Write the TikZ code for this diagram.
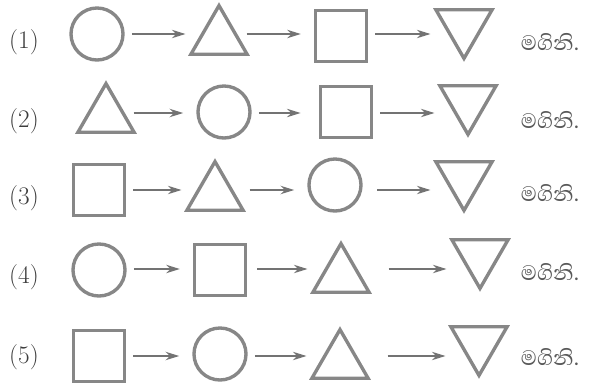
\documentclass[tikz,border=0pt]{standalone}
\usepackage{fontspec}
\usetikzlibrary{shapes.geometric, arrows.meta, positioning}
\newfontfamily\sinhalafont[Script=Sinhala]{Abhaya Libre}
\definecolor{shapegray}{RGB}{135,135,135}
\definecolor{arrowgray}{RGB}{115,115,115}
\definecolor{textgray}{RGB}{60,60,60}

\begin{document}
\begin{tikzpicture}[x=0.025cm, y=-0.025cm,
  fig/.style={draw=shapegray, line width=2.4pt, inner sep=0pt, outer sep=0pt},
  circ/.style={fig, circle, minimum size=1.3cm},
  sq/.style={fig, rectangle, minimum size=1.27cm},
  tri/.style={fig, regular polygon, regular polygon sides=3, minimum size=1.62cm},
  invtri/.style={tri, shape border rotate=180},
  conn/.style={-{Stealth[length=0.34cm, width=0.21cm]}, line width=1.1pt,
               draw=arrowgray, shorten <=0.22cm, shorten >=0.37cm},
  num/.style={font=\fontsize{18}{20}\selectfont, text=textgray},
  word/.style={font=\sinhalafont\fontsize{19}{21}\selectfont, text=textgray!85}
]
  \useasboundingbox (0,0) rectangle (595,383);

  % row 1
  \coordinate (r1) at (0,34);
  \node[num]    (n1) at (24,42)  {(1)};
  \node[circ]   (a1) at (97,34)  {};
  \node[tri]    (b1) at (219,38) {};
  \node[sq]     (c1) at (341,36) {};
  \node[invtri] (d1) at (464,26) {};
  \node[word]   (w1) at (550,42) {මගිනි.};
  \draw[conn] (a1.east |- r1) -- (b1.west |- r1);
  \draw[conn] (b1.east |- r1) -- (c1.west |- r1);
  \draw[conn] (c1.east |- r1) -- (d1.west |- r1);

  % row 2
  \coordinate (r2) at (0,113);
  \node[num]    (n2) at (24,121)  {(2)};
  \node[tri]    (a2) at (106,116) {};
  \node[circ]   (b2) at (224,112) {};
  \node[sq]     (c2) at (346,112) {};
  \node[invtri] (d2) at (468,102) {};
  \node[word]   (w2) at (550,120) {මගිනි.};
  \draw[conn] (a2.east |- r2) -- (b2.west |- r2);
  \draw[conn, shorten >=0.5cm] (b2.east |- r2) -- (c2.west |- r2);
  \draw[conn] (c2.east |- r2) -- (d2.west |- r2);

  % row 3
  \coordinate (r3) at (0,190);
  \node[num]    (n3) at (24,198)  {(3)};
  \node[sq]     (a3) at (99,190)  {};
  \node[tri]    (b3) at (215,194) {};
  \node[circ]   (c3) at (335,185) {};
  \node[invtri] (d3) at (464,178) {};
  \node[word]   (w3) at (550,193) {මගිනි.};
  \draw[conn] (a3.east |- r3) -- (b3.west |- r3);
  \draw[conn, shorten <=0.4cm] (b3.east |- r3) -- (c3.west |- r3);
  \draw[conn, shorten <=0.4cm] (c3.east |- r3) -- (d3.west |- r3);

  % row 4
  \coordinate (r4) at (0,269);
  \node[num]    (n4) at (24,277)  {(4)};
  \node[circ]   (a4) at (99,270)  {};
  \node[sq]     (b4) at (220,270) {};
  \node[tri]    (c4) at (341,276) {};
  \node[invtri] (d4) at (480,256) {};
  \node[word]   (w4) at (550,272) {මගිනි.};
  \draw[conn] (a4.east |- r4) -- (b4.west |- r4);
  \draw[conn, shorten <=0.3cm] (b4.east |- r4) -- (c4.west |- r4);
  \draw[conn, shorten <=0.72cm] (c4.east |- r4) -- (d4.west |- r4);

  % row 5
  \coordinate (r5) at (0,356);
  \node[num]    (n5) at (24,357)  {(5)};
  \node[sq]     (a5) at (99,356)  {};
  \node[circ]   (b5) at (220,354) {};
  \node[tri]    (c5) at (340,362) {};
  \node[invtri] (d5) at (479,343) {};
  \node[word]   (w5) at (550,357) {මගිනි.};
  \draw[conn] (a5.east |- r5) -- (b5.west |- r5);
  \draw[conn] (b5.east |- r5) -- (c5.west |- r5);
  \draw[conn, shorten <=0.72cm] (c5.east |- r5) -- (d5.west |- r5);
\end{tikzpicture}
\end{document}
